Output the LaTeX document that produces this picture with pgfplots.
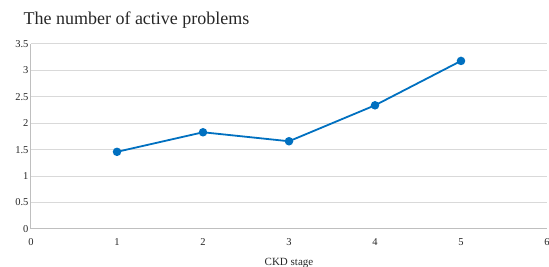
\documentclass[border=0pt]{standalone}
\usepackage{pgfplots}
\pgfplotsset{compat=1.18}
\usepackage{fontspec}
\setmainfont{Liberation Serif}
\definecolor{lineblue}{RGB}{0,112,192}
\definecolor{gridgray}{RGB}{217,217,217}
\definecolor{axgray}{RGB}{191,191,191}
\begin{document}
\begin{tikzpicture}
\begin{axis}[
  at={(31pt,38pt)}, anchor=south west,
  scale only axis, width=516pt, height=185pt,
  xmin=0, xmax=6, ymin=0, ymax=3.5,
  xtick={0,1,2,3,4,5,6}, ytick={0,0.5,1,1.5,2,2.5,3,3.5},
  yticklabels={0,0.5,1,1.5,2,2.5,3,3.5},
  xticklabels={0,1,2,3,4,5,6},
  /pgf/number format/assume math mode=true,
  major tick length=0pt,
  axis x line*=bottom, axis y line*=left,
  axis line style={axgray, line width=1pt},
  x axis line style={-}, y axis line style={-},
  ymajorgrids, grid style={gridgray, line width=1pt},
  tick label style={font=\fontsize{10.5}{12}\selectfont, text=black!85},
  xticklabel style={yshift=-6pt},
  yticklabel style={xshift=1pt},
  xlabel={CKD stage},
  xlabel style={font=\fontsize{11}{12}\selectfont, text=black!85, yshift=-6pt},
  clip=false,
]
\addplot[lineblue, line width=1.8pt, mark=*, mark size=3.3pt, mark options={fill=lineblue, draw=lineblue}]
  coordinates {(1,1.46) (2,1.83) (3,1.66) (4,2.34) (5,3.18)};
\end{axis}
\node[anchor=base west, font=\fontsize{18}{20}\selectfont, text=black!85] at (20pt,242pt) {The number of active problems};
\pgfresetboundingbox
\useasboundingbox (0,0) rectangle (549pt,267pt);
\end{tikzpicture}
\end{document}
